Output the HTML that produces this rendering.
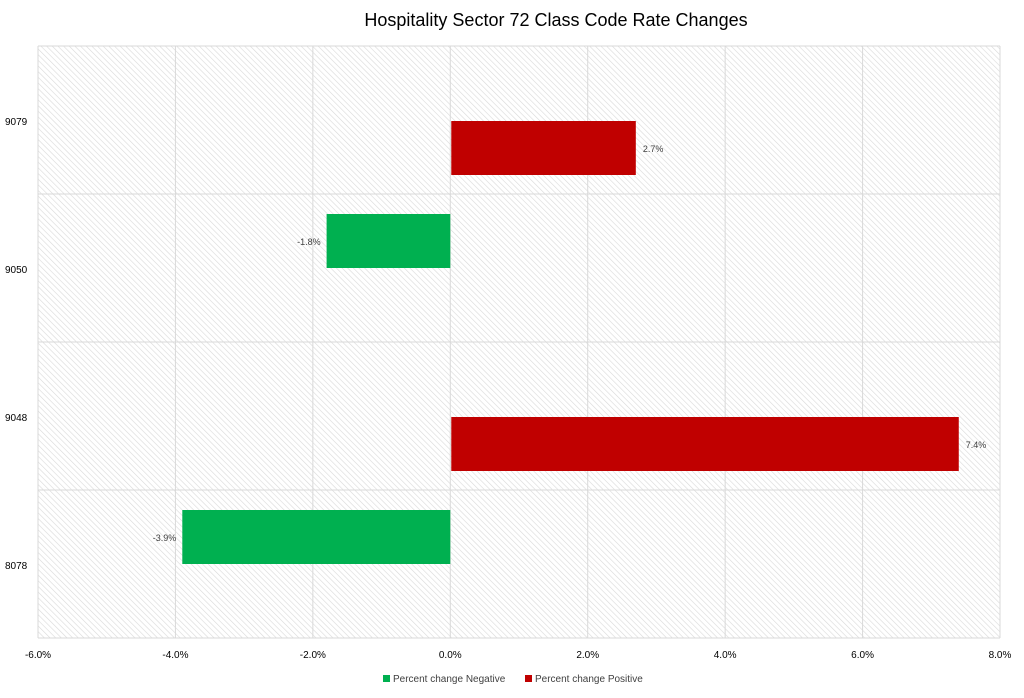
<!DOCTYPE html>
<html><head><meta charset="utf-8"><style>
body{margin:0;background:#fff;font-family:"Liberation Sans",sans-serif}
</style></head><body>
<svg width="1024" height="693" xmlns="http://www.w3.org/2000/svg">
<defs>
<pattern id="hatch" patternUnits="userSpaceOnUse" width="4" height="4" patternTransform="rotate(-45)">
<rect width="4" height="4" fill="#fff"/>
<line x1="0" y1="0" x2="0" y2="4" stroke="#d9d9d9" stroke-width="1.2"/>
</pattern>
</defs>
<text x="556" y="26" text-anchor="middle" font-size="18" fill="#000">Hospitality Sector 72 Class Code Rate Changes</text>
<rect x="38" y="46" width="962" height="592" fill="url(#hatch)"/>
<g id="grid"></g>
<g id="bars"></g>
<g id="labels"></g>
<g>
<rect x="383" y="675" width="7" height="7" fill="#00b050"/>
<text x="393" y="682" font-size="10" fill="#404040">Percent change Negative</text>
<rect x="525" y="675" width="7" height="7" fill="#c00000"/>
<text x="535" y="682" font-size="10" fill="#404040">Percent change Positive</text>
</g>
</svg>
<script>
const categories = ["9079","9050","9048","8078"];
const negValues = [null, -1.8, null, -3.9];
const posValues = [2.7, null, 7.4, null];
const xTicks = [-6,-4,-2,0,2,4,6,8];
const NS="http://www.w3.org/2000/svg";
const X0=38,X1=1000,XMIN=-6,XMAX=8,Y0=46,BAND=148;
const xs=v=>X0+(v-XMIN)/(XMAX-XMIN)*(X1-X0);
const band=i=>Y0+i*BAND;
function mk(tag,attrs,parent,text){const e=document.createElementNS(NS,tag);for(const k in attrs)e.setAttribute(k,attrs[k]);if(text!==undefined)e.textContent=text;document.getElementById(parent).appendChild(e);return e;}
xTicks.forEach(t=>{
  const l=mk('line',{x1:xs(t),x2:xs(t),y1:Y0,y2:Y0+BAND*categories.length,stroke:'#d9d9d9','stroke-width':1},'grid');
  
  
  const tx=mk('text',{x:xs(t),y:658,'text-anchor':'middle','font-size':10,fill:'#000'},'labels',t.toFixed(1)+'%');
  
  
});
for(let i=0;i<=categories.length;i++){
  const l=mk('line',{x1:X0,x2:X1,y1:band(i),y2:band(i),stroke:'#d9d9d9','stroke-width':1},'grid');
  
  
}
categories.forEach((c,i)=>{
  const t=mk('text',{x:5,y:band(i)+79,'font-size':10,fill:'#000'},'labels',c);
  
  
  const n=negValues[i];
  if(n!==null){
    const x=Math.min(xs(n),xs(0)),w=Math.abs(xs(n)-xs(0));
    const r=mk('rect',{x:x,y:band(i)+20,width:w,height:54,fill:'#00b050'},'bars');
    
    
    const lb=mk('text',{x:x-6,y:band(i)+51,'text-anchor':'end','font-size':9,fill:'#404040'},'labels',n.toFixed(1)+'%');
    
    
  }
  const p=posValues[i];
  if(p!==null){
    const x=xs(0),w=xs(p)-xs(0);
    const r=mk('rect',{x:x+1,y:band(i)+75,width:w-1,height:54,fill:'#c00000'},'bars');
    
    
    const lb=mk('text',{x:xs(p)+7,y:band(i)+106,'font-size':9,fill:'#404040'},'labels',p.toFixed(1)+'%');
    
    
  }
});
</script>
</body></html>
